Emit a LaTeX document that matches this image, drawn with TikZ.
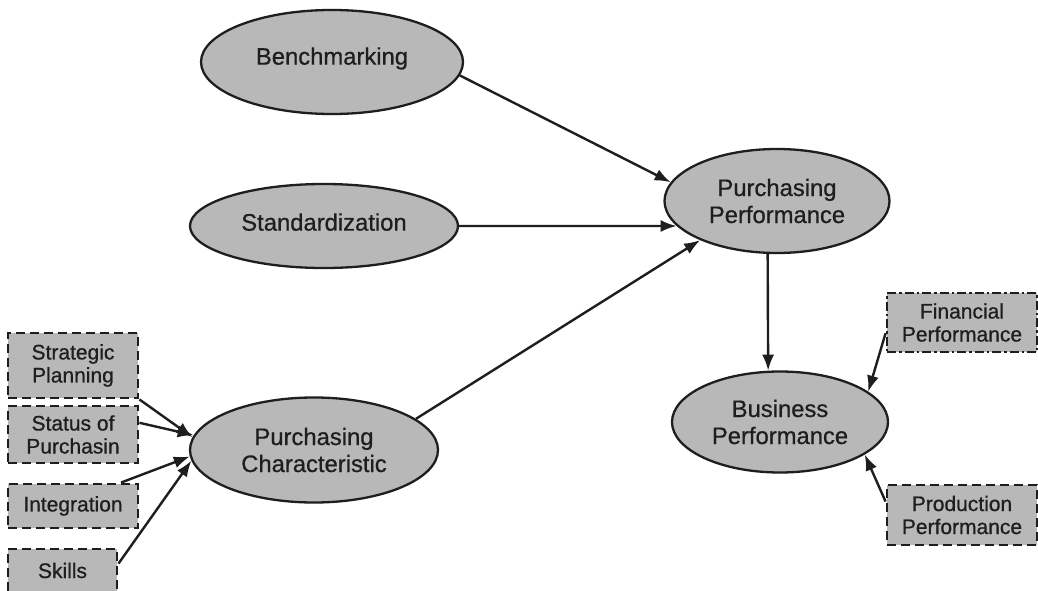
\documentclass[tikz,border=0pt]{standalone}
\usepackage{fontspec}
\setmainfont{Liberation Sans}[FakeBold=0.7]
\usetikzlibrary{shapes.geometric,arrows.meta}

\definecolor{shade}{RGB}{184,184,184}
\definecolor{ink}{RGB}{30,30,30}

\tikzset{
  oval/.style={ellipse, draw=ink, line width=2.3pt, fill=shade, inner sep=0pt,
    text=ink, align=center, font=\fontsize{23.8}{27}\selectfont},
  factor/.style={rectangle, draw=ink, line width=2.9pt, fill=shade, inner sep=0pt,
    dash pattern=on 9pt off 5pt, text=ink, align=center,
    font=\fontsize{21}{23}\selectfont},
  dotfactor/.style={factor, dash pattern=on 9pt off 3pt on 2.5pt off 3pt},
  link/.style={draw=ink, line width=2.4pt, -{Latex[length=16pt,width=12pt]}}
}

\begin{document}
\begin{tikzpicture}[x=1pt,y=-1pt]
  \useasboundingbox (0,0) rectangle (1038,591);
  \fill[white] (0,0) rectangle (1038,591);

  % constructs
  \node[oval, minimum width=262pt, minimum height=104pt] (bench) at (332,62) {\raisebox{12pt}{Benchmarking}};
  \node[oval, minimum width=268pt, minimum height=84pt] (std) at (324,226) {\raisebox{8pt}{Standardization}};
  \node[oval, minimum width=225pt, minimum height=104pt] (pp) at (777,201) {Purchasing\\Performance};
  \node[oval, minimum width=216pt, minimum height=101pt] (bp) at (780,422) {Business\\Performance};
  \node[oval, minimum width=248pt, minimum height=105pt] (pc) at (314,450) {Purchasing\\Characteristic};

  % indicators
  \node[factor, minimum width=130pt, minimum height=65pt] (sp) at (73,365.5) {Strategic\\Planning};
  \node[factor, minimum width=130pt, minimum height=57pt] (status) at (73,434.5) {Status of\\Purchasin};
  \node[factor, minimum width=130pt, minimum height=44pt] (integ) at (73,506) {Integration};
  \node[factor, minimum width=109pt, minimum height=43pt] (skills) at (62.5,570.5) {Skills};
  \node[dotfactor, minimum width=150pt, minimum height=59pt] (fin) at (962,322.5) {Financial\\Performance};
  \node[factor, minimum width=150pt, minimum height=60pt] (prod) at (962,515) {Production\\Performance};

  % paths
  \draw[link] (bench.-6.6) -- (pp.170.3);
  \draw[link] (std.east) -- (pp.194.2);
  \draw[link] (pc.17.3) -- (pp.207.6);
  \draw[link] (pp.260.15) -- (bp.103.45);
  \draw[link] (fin.188) -- (bp.19.8);
  \draw[link] (prod.170) -- (bp.-21.9);

  \draw[link] (sp.south east) -- (pc.174.5);
  \draw[link] (status.10.9) -- (pc.173);
  \draw[link] (integ.26.6) -- (pc.183);
  \draw[link] (skills.7.8) -- (pc.185.5);
\end{tikzpicture}
\end{document}
